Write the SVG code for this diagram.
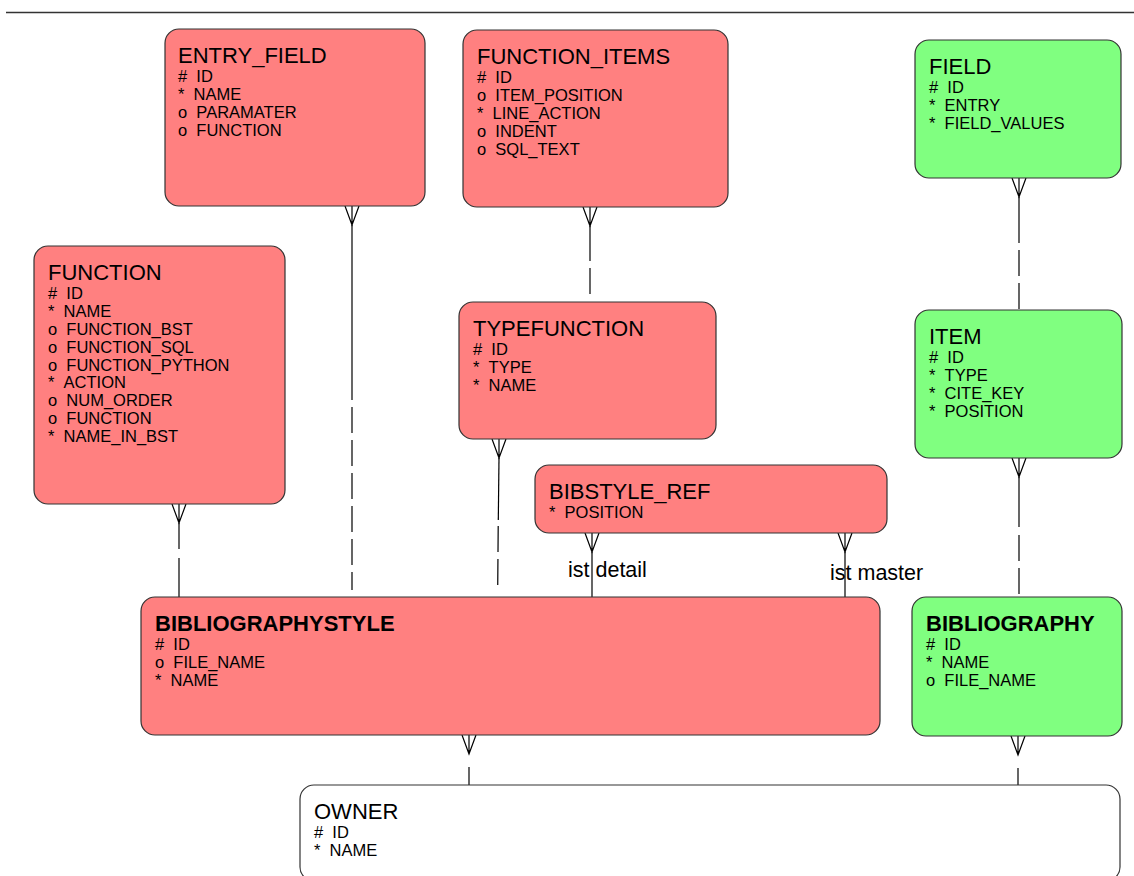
<svg xmlns="http://www.w3.org/2000/svg" xmlns:xlink="http://www.w3.org/1999/xlink" width="1134" height="876" viewBox="0 0 1134 876">
  <style>
    .box { stroke: #333; stroke-width: 1.2; }
    .red { fill: #ff8080; }
    .green { fill: #80ff80; }
    .plain { fill: #ffffff; }
    .title { font-family: "Liberation Sans", Arial, sans-serif; font-size: 22px; fill: #000; }
    .bold { font-weight: bold; }
    .attr { font-family: "Liberation Sans", Arial, sans-serif; font-size: 16.5px; fill: #000; }
    .label { font-family: "Liberation Sans", Arial, sans-serif; font-size: 21.5px; fill: #000; }
    .rel { stroke: #000; stroke-width: 1.2; fill: none; }
    .dash { stroke-dasharray: 26 7; }
  </style>
  <defs>
    <!-- crow's foot (many end), apex 19px below the entity edge -->
    <path id="crow" d="M-7,0 L0,19 L7,0 M0,0 V19" fill="none" stroke="#000" stroke-width="1.2"/>
  </defs>

  <rect width="1134" height="876" fill="#fff"/>
  <line x1="6" y1="12.5" x2="1134" y2="12.5" stroke="#333" stroke-width="1.5"/>

  <g id="connectors">
    <!-- ENTRY_FIELD - BIBLIOGRAPHYSTYLE -->
    <use xlink:href="#crow" x="352" y="206"/>
    <line class="rel" x1="352" y1="225" x2="352" y2="400"/>
    <line class="rel dash" x1="352" y1="407" x2="352" y2="590"/>
    <!-- FUNCTION_ITEMS - TYPEFUNCTION -->
    <use xlink:href="#crow" x="590" y="207"/>
    <line class="rel" x1="590" y1="226" x2="590" y2="261"/>
    <line class="rel" x1="590" y1="268" x2="590" y2="294"/>
    <!-- FIELD - ITEM -->
    <use xlink:href="#crow" x="1019" y="178"/>
    <line class="rel" x1="1019" y1="197" x2="1019" y2="243"/>
    <line class="rel dash" x1="1019" y1="250" x2="1019" y2="310"/>
    <!-- FUNCTION - BIBLIOGRAPHYSTYLE -->
    <use xlink:href="#crow" x="179" y="504"/>
    <line class="rel" x1="179" y1="523" x2="179" y2="549"/>
    <line class="rel" x1="179" y1="558" x2="179" y2="597"/>
    <!-- TYPEFUNCTION - BIBLIOGRAPHYSTYLE -->
    <use xlink:href="#crow" x="499" y="439"/>
    <line class="rel" x1="499" y1="458" x2="498.3" y2="520"/>
    <line class="rel dash" x1="498.2" y1="526" x2="497.7" y2="590"/>
    <!-- BIBSTYLE_REF - BIBLIOGRAPHYSTYLE (detail) -->
    <use xlink:href="#crow" x="592" y="533"/>
    <line class="rel" x1="592" y1="552" x2="592" y2="597"/>
    <!-- BIBSTYLE_REF - BIBLIOGRAPHYSTYLE (master) -->
    <use xlink:href="#crow" x="845" y="533"/>
    <line class="rel" x1="845" y1="552" x2="845" y2="597"/>
    <!-- ITEM - BIBLIOGRAPHY -->
    <use xlink:href="#crow" x="1019" y="458"/>
    <line class="rel" x1="1019" y1="477" x2="1019" y2="527"/>
    <line class="rel dash" x1="1019" y1="535" x2="1019" y2="597"/>
    <!-- BIBLIOGRAPHYSTYLE - OWNER -->
    <use xlink:href="#crow" x="469" y="735"/>
    <line class="rel" x1="469" y1="767" x2="469" y2="785"/>
    <!-- BIBLIOGRAPHY - OWNER -->
    <use xlink:href="#crow" x="1018" y="736"/>
    <line class="rel" x1="1018" y1="768" x2="1018" y2="785"/>
    <text class="label" x="568" y="577">ist detail</text>
    <text class="label" x="830" y="580">ist master</text>
  </g>

  <g id="entry_field">
    <rect class="box red" x="165" y="29" width="260" height="177" rx="14"/>
    <text class="title" x="178" y="63">ENTRY_FIELD</text>
    <text class="attr" x="178" y="82">#&#160;&#160;ID</text>
    <text class="attr" x="178" y="100">*&#160;&#160;NAME</text>
    <text class="attr" x="178" y="118">o&#160;&#160;PARAMATER</text>
    <text class="attr" x="178" y="136">o&#160;&#160;FUNCTION</text>
  </g>

  <g id="function_items">
    <rect class="box red" x="463" y="30" width="265" height="177" rx="14"/>
    <text class="title" x="477" y="64">FUNCTION_ITEMS</text>
    <text class="attr" x="477" y="83">#&#160;&#160;ID</text>
    <text class="attr" x="477" y="101">o&#160;&#160;ITEM_POSITION</text>
    <text class="attr" x="477" y="119">*&#160;&#160;LINE_ACTION</text>
    <text class="attr" x="477" y="137">o&#160;&#160;INDENT</text>
    <text class="attr" x="477" y="155">o&#160;&#160;SQL_TEXT</text>
  </g>

  <g id="field">
    <rect class="box green" x="915" y="40" width="206" height="138" rx="14"/>
    <text class="title" x="929" y="74">FIELD</text>
    <text class="attr" x="929" y="93">#&#160;&#160;ID</text>
    <text class="attr" x="929" y="111">*&#160;&#160;ENTRY</text>
    <text class="attr" x="929" y="129">*&#160;&#160;FIELD_VALUES</text>
  </g>

  <g id="function">
    <rect class="box red" x="34" y="246" width="251" height="258" rx="14"/>
    <text class="title" x="48" y="280">FUNCTION</text>
    <text class="attr" x="48" y="299">#&#160;&#160;ID</text>
    <text class="attr" x="48" y="317">*&#160;&#160;NAME</text>
    <text class="attr" x="48" y="335">o&#160;&#160;FUNCTION_BST</text>
    <text class="attr" x="48" y="353">o&#160;&#160;FUNCTION_SQL</text>
    <text class="attr" x="48" y="371">o&#160;&#160;FUNCTION_PYTHON</text>
    <text class="attr" x="48" y="388">*&#160;&#160;ACTION</text>
    <text class="attr" x="48" y="406">o&#160;&#160;NUM_ORDER</text>
    <text class="attr" x="48" y="424">o&#160;&#160;FUNCTION</text>
    <text class="attr" x="48" y="442">*&#160;&#160;NAME_IN_BST</text>
  </g>

  <g id="typefunction">
    <rect class="box red" x="459" y="302" width="257" height="137" rx="14"/>
    <text class="title" x="473" y="336">TYPEFUNCTION</text>
    <text class="attr" x="473" y="355">#&#160;&#160;ID</text>
    <text class="attr" x="473" y="373">*&#160;&#160;TYPE</text>
    <text class="attr" x="473" y="391">*&#160;&#160;NAME</text>
  </g>

  <g id="item">
    <rect class="box green" x="915" y="310" width="207" height="148" rx="14"/>
    <text class="title" x="929" y="344">ITEM</text>
    <text class="attr" x="929" y="363">#&#160;&#160;ID</text>
    <text class="attr" x="929" y="381">*&#160;&#160;TYPE</text>
    <text class="attr" x="929" y="399">*&#160;&#160;CITE_KEY</text>
    <text class="attr" x="929" y="417">*&#160;&#160;POSITION</text>
  </g>

  <g id="bibstyle_ref">
    <rect class="box red" x="535" y="465" width="352" height="68" rx="14"/>
    <text class="title" x="549" y="499">BIBSTYLE_REF</text>
    <text class="attr" x="549" y="518">*&#160;&#160;POSITION</text>
  </g>

  <g id="bibliographystyle">
    <rect class="box red" x="141" y="597" width="739" height="138" rx="14"/>
    <text class="title bold" x="155" y="631">BIBLIOGRAPHYSTYLE</text>
    <text class="attr" x="155" y="650">#&#160;&#160;ID</text>
    <text class="attr" x="155" y="668">o&#160;&#160;FILE_NAME</text>
    <text class="attr" x="155" y="686">*&#160;&#160;NAME</text>
  </g>

  <g id="bibliography">
    <rect class="box green" x="912" y="597" width="210" height="139" rx="14"/>
    <text class="title bold" x="926" y="631">BIBLIOGRAPHY</text>
    <text class="attr" x="926" y="650">#&#160;&#160;ID</text>
    <text class="attr" x="926" y="668">*&#160;&#160;NAME</text>
    <text class="attr" x="926" y="686">o&#160;&#160;FILE_NAME</text>
  </g>

  <g id="owner">
    <rect class="box plain" x="300" y="785" width="820" height="96" rx="14"/>
    <text class="title" x="314" y="819">OWNER</text>
    <text class="attr" x="314" y="838">#&#160;&#160;ID</text>
    <text class="attr" x="314" y="856">*&#160;&#160;NAME</text>
  </g>
</svg>
